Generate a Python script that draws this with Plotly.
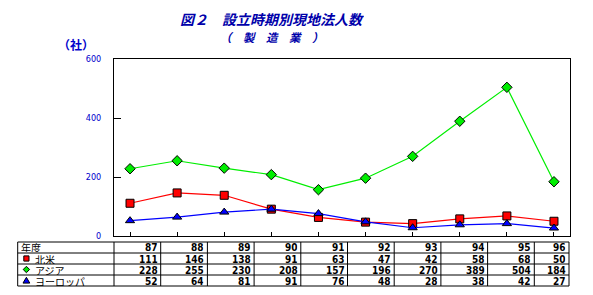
import plotly.graph_objects as go

years = ["87", "88", "89", "90", "91", "92", "93", "94", "95", "96"]
series_names = ["北米", "アジア", "ヨーロッパ"]
north_america = [111, 146, 138, 91, 63, 47, 42, 58, 68, 50]
asia = [228, 255, 230, 208, 157, 196, 270, 389, 504, 184]
europe = [52, 64, 81, 91, 76, 48, 28, 38, 42, 27]
y_ticks = [0, 200, 400, 600]

colors = ["#FF0000", "#00EE00", "#0000FF"]
symbols = ["square", "diamond", "triangle-up"]
msizes = [8, 8, 8]
data = [north_america, asia, europe]

W_PX, H_PX = 593, 295
L, R, T, B = 114.3, 570.3, 59, 236
PW, PH = R - L, B - T


def px(x):
    return (x - L) / PW


def py(y):
    return (B - y) / PH


xs = list(range(len(years)))
fig = go.Figure()
for name, vals, c, s, ms in zip(series_names, data, colors, symbols, msizes):
    fig.add_trace(go.Scatter(
        x=xs, y=vals, mode="lines+markers", name=name,
        line=dict(color=c, width=1.2),
        marker=dict(symbol=s, size=ms, color=c, line=dict(color="black", width=1)),
        showlegend=False,
    ))

blue = "#0000CC"
ann = []
ann.append(dict(text="<b><i>図２　設立時期別現地法人数</i></b>", x=px(272), y=py(19),
                xref="paper", yref="paper", showarrow=False, xanchor="center", yanchor="middle",
                height=14, font=dict(size=14, color="#0000AA", family="Noto Sans CJK JP")))
ann.append(dict(text="<b><i>（　製　造　業　）</i></b>", x=px(272), y=py(37.5),
                xref="paper", yref="paper", showarrow=False, xanchor="center", yanchor="middle",
                height=12, font=dict(size=11.5, color="#0000AA", family="Noto Sans CJK JP")))
ann.append(dict(text="<b>（社）</b>", x=px(76), y=py(44),
                xref="paper", yref="paper", showarrow=False, xanchor="center", yanchor="middle",
                height=13, font=dict(size=12, color=blue, family="Noto Sans CJK JP")))

# table geometry
tab_left, tab_right = 18, 569.3
row_lines = [242, 253, 264, 275, 286]
col_w = 46.7
col_bounds = [L + col_w * k for k in range(len(years))] + [tab_right]

shapes = []
for yl in row_lines:
    shapes.append(dict(type="line", xref="paper", yref="paper", x0=px(tab_left), x1=px(tab_right),
                       y0=py(yl), y1=py(yl), line=dict(color="black", width=1)))
for xb in [tab_left] + col_bounds:
    shapes.append(dict(type="line", xref="paper", yref="paper", x0=px(xb), x1=px(xb),
                       y0=py(row_lines[0]), y1=py(row_lines[-1]), line=dict(color="black", width=1)))

num_font = dict(size=10, color="black", family="Liberation Sans Narrow, DejaVu Sans Condensed, Arial Narrow")
lab_font = dict(size=10, color="black", family="Noto Sans CJK JP")
row_centers = [(row_lines[i] + row_lines[i + 1]) / 2 for i in range(4)]

ann.append(dict(text="年度", x=px(tab_left + 1), y=py(row_centers[0]), xref="paper", yref="paper",
                showarrow=False, xanchor="left", yanchor="middle", height=10, font=lab_font))
for i, name in enumerate(series_names):
    ann.append(dict(text=name, x=px(33), y=py(row_centers[i + 1]), xref="paper", yref="paper",
                    showarrow=False, xanchor="left", yanchor="middle", height=10, font=lab_font))

for k, yr in enumerate(years):
    ann.append(dict(text="<b>" + yr + "</b>", x=px(col_bounds[k + 1] - 1), y=py(row_centers[0]),
                    xref="paper", yref="paper", showarrow=False, xanchor="right", yanchor="middle",
                    height=10, font=num_font))
    for i, vals in enumerate(data):
        ann.append(dict(text="<b>" + str(vals[k]) + "</b>", x=px(col_bounds[k + 1] - 1),
                        y=py(row_centers[i + 1]), xref="paper", yref="paper", showarrow=False,
                        xanchor="right", yanchor="middle", height=10, font=num_font))

# legend keys in table (drawn as small shapes)
kx = 26.7
s = 2.6
cy = row_centers[1]
shapes.append(dict(type="rect", xref="paper", yref="paper", x0=px(kx - s), x1=px(kx + s),
                   y0=py(cy + s), y1=py(cy - s), fillcolor=colors[0],
                   line=dict(color="black", width=1)))
cy = row_centers[2]
shapes.append(dict(type="path", xref="paper", yref="paper",
                   path="M {} {} L {} {} L {} {} L {} {} Z".format(
                       px(kx), py(cy - 3.2), px(kx + 3.2), py(cy), px(kx), py(cy + 3.2), px(kx - 3.2), py(cy)),
                   fillcolor=colors[1], line=dict(color="black", width=1)))
cy = row_centers[3]
shapes.append(dict(type="path", xref="paper", yref="paper",
                   path="M {} {} L {} {} L {} {} Z".format(
                       px(kx), py(cy - 3.2), px(kx + 3.4), py(cy + 2.6), px(kx - 3.4), py(cy + 2.6)),
                   fillcolor=colors[2], line=dict(color="black", width=1)))

fig.update_layout(
    width=W_PX, height=H_PX,
    margin=dict(l=L, r=W_PX - R, t=T, b=H_PX - B),
    paper_bgcolor="white", plot_bgcolor="white",
    annotations=ann, shapes=shapes,
    xaxis=dict(range=[-0.34, 9.34], tickvals=xs, ticktext=[""] * len(xs), ticks="inside", ticklen=4,
               tickcolor="black", showgrid=False, zeroline=False, showline=True, linecolor="black",
               linewidth=1, mirror=True, fixedrange=True),
    yaxis=dict(range=[0, 600], tickvals=y_ticks, ticks="inside", ticklen=7, tickcolor="black",
               showgrid=False, zeroline=False, showline=True, linecolor="black", linewidth=1,
               mirror=True, ticklabelstandoff=10,
               tickfont=dict(size=9, color=blue, family="DejaVu Sans Condensed, DejaVu Sans"),
               tickprefix="<b>", ticksuffix="</b>"),
    font=dict(family="Noto Sans CJK JP"),
)

fig.write_html("out.html")
